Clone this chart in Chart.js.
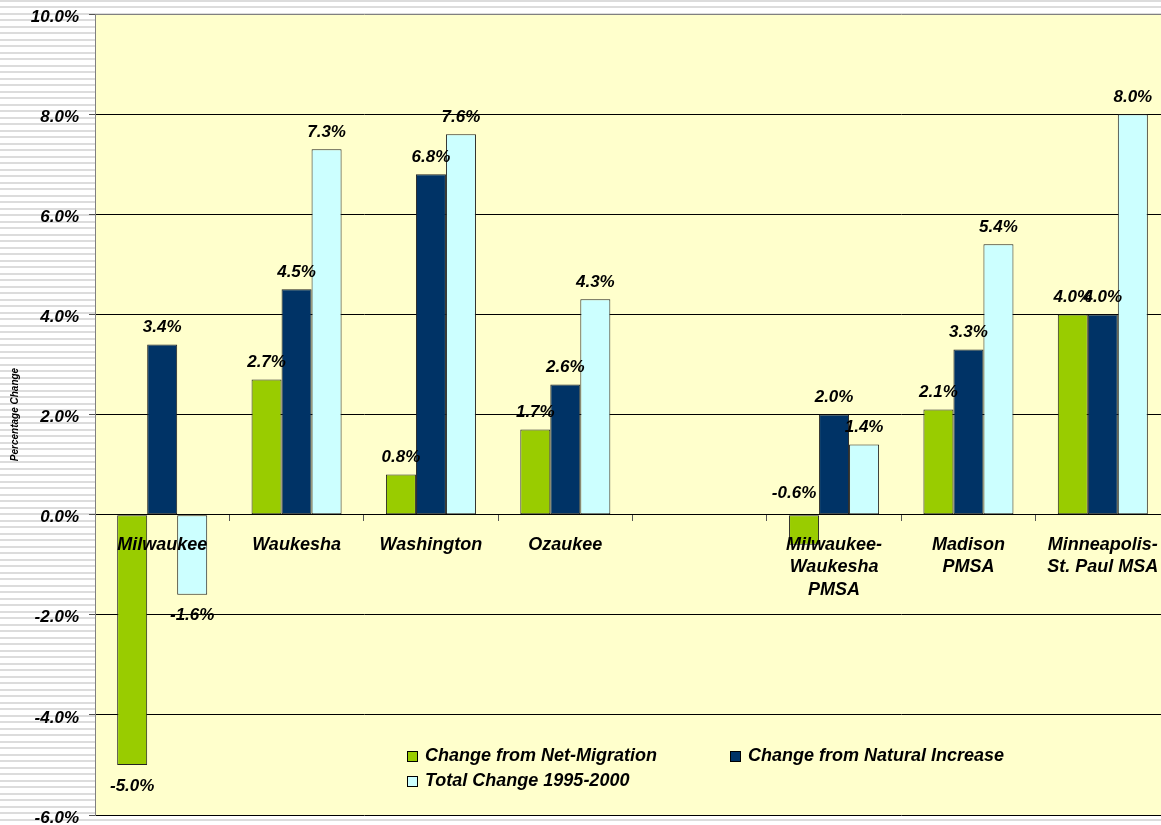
<!DOCTYPE html>
<html>
<head>
<meta charset="utf-8">
<title>Population change 1995-2000</title>
<script src="https://cdn.jsdelivr.net/npm/chart.js@4"></script>
<style>
  html, body {
    margin: 0;
    padding: 0;
    overflow: hidden;
    background: repeating-linear-gradient(to bottom, #dcdcdc 0px, #dcdcdc 2px, #ffffff 2px, #ffffff 6.5px);
  }
  #chart { display: block; }
</style>
</head>
<body>
<canvas id="chart" width="1170" height="825"></canvas>
<script>
const categories = [
  "Milwaukee",
  "Waukesha",
  "Washington",
  "Ozaukee",
  "",
  ["Milwaukee-", "Waukesha", "PMSA"],
  ["Madison", "PMSA"],
  ["Minneapolis-", "St. Paul MSA"],
];
const netMigration = [-5.0, 2.7, 0.8, 1.7, null, -0.6, 2.1, 4.0];
const naturalIncrease = [3.4, 4.5, 6.8, 2.6, null, 2.0, 3.3, 4.0];
const totalChange = [-1.6, 7.3, 7.6, 4.3, null, 1.4, 5.4, 8.0];
const seriesNames = [
  "Change from Net-Migration",
  "Change from Natural Increase",
  "Total Change 1995-2000",
];
const yMin = -6;
const yMax = 10;
const yStep = 2;

const FONT = '"Liberation Sans", Arial, sans-serif';
const valueFont = "italic bold 17px " + FONT;
const legendFont = "italic bold 18px " + FONT;

// light yellow plot area
const plotBackground = {
  id: "plotBackground",
  beforeDraw(chart) {
    const { ctx, chartArea: a } = chart;
    ctx.save();
    ctx.fillStyle = "#ffffcc";
    ctx.fillRect(a.left, a.top, a.right - a.left, a.bottom - a.top);
    ctx.restore();
  },
};

// value labels at the end of each bar
const valueLabels = {
  id: "valueLabels",
  afterDatasetsDraw(chart) {
    const ctx = chart.ctx;
    const zeroY = chart.scales.y.getPixelForValue(0);
    ctx.save();
    ctx.font = valueFont;
    ctx.fillStyle = "#000";
    ctx.textAlign = "center";
    ctx.textBaseline = "middle";
    chart.data.datasets.forEach((ds, i) => {
      chart.getDatasetMeta(i).data.forEach((bar, j) => {
        const v = ds.data[j];
        if (v == null) return;
        let x = bar.x;
        let y;
        if (v >= 0) {
          y = bar.y - 17;
        } else if (bar.y - zeroY < 40) {
          // short negative bar: label sits above the axis, like the original
          y = zeroY - 21;
          x -= 10;
        } else {
          y = bar.y + 21;
        }
        ctx.fillText(v.toFixed(1) + "%", x, y);
      });
    });
    ctx.restore();
  },
};

// legend drawn inside the plot area
const innerLegend = {
  id: "innerLegend",
  afterDraw(chart) {
    const ctx = chart.ctx;
    const cols = [407, 730];
    const rows = [756, 781];
    ctx.save();
    ctx.font = legendFont;
    ctx.textAlign = "left";
    ctx.textBaseline = "middle";
    chart.data.datasets.forEach((ds, i) => {
      const x = cols[i % 2];
      const y = rows[Math.floor(i / 2)];
      ctx.fillStyle = ds.backgroundColor;
      ctx.fillRect(x, y - 5, 10, 10);
      ctx.strokeStyle = "#000";
      ctx.lineWidth = 1;
      ctx.strokeRect(x + 0.5, y - 4.5, 10, 10);
      ctx.fillStyle = "#000";
      ctx.fillText(ds.label, x + 18, y);
    });
    ctx.restore();
  },
};

const barStyle = {
  borderColor: "#222",
  borderWidth: 1,
  borderSkipped: false,
  categoryPercentage: 0.67,
  barPercentage: 1.0,
};

new Chart(document.getElementById("chart"), {
  type: "bar",
  data: {
    labels: categories,
    datasets: [
      { label: seriesNames[0], data: netMigration, backgroundColor: "#99cc00", ...barStyle },
      { label: seriesNames[1], data: naturalIncrease, backgroundColor: "#003366", ...barStyle },
      { label: seriesNames[2], data: totalChange, backgroundColor: "#ccffff", ...barStyle },
    ],
  },
  options: {
    responsive: false,
    animation: false,
    layout: { padding: { top: 14, bottom: 10, left: 0, right: 0 } },
    plugins: {
      legend: { display: false },
      tooltip: { enabled: false },
    },
    scales: {
      x: {
        position: { y: 0 },
        offset: true,
        afterFit(scale) {
          scale.paddingLeft = 0;
          scale.paddingRight = 0;
          scale.paddingTop = 0;
          scale.paddingBottom = 0;
        },
        grid: {
          offset: true,
          drawOnChartArea: false,
          drawTicks: true,
          tickLength: 6,
          tickColor: "#555",
        },
        border: { display: true, color: "#000", width: 1 },
        ticks: {
          z: 1,
          autoSkip: false,
          maxRotation: 0,
          minRotation: 0,
          padding: 13,
          color: "#000",
          font: { family: FONT, size: 18, style: "italic", weight: "bold", lineHeight: 1.25 },
        },
      },
      y: {
        min: yMin,
        max: yMax,
        afterFit(scale) {
          scale.width = 95;
          scale.paddingTop = 0;
          scale.paddingBottom = 0;
        },
        grid: {
          color: (c) => (c.tick && c.tick.value === yMax ? "#808080" : "#000"),
          lineWidth: 1,
          drawTicks: true,
          tickLength: 6,
          tickColor: "#555",
        },
        border: { display: true, color: "#808080", width: 1 },
        ticks: {
          stepSize: yStep,
          padding: 10,
          labelOffset: 3,
          color: "#000",
          font: { family: FONT, size: 17, style: "italic", weight: "bold" },
          callback: (v) => v.toFixed(1) + "%",
        },
        title: {
          display: true,
          text: "Percentage Change",
          color: "#000",
          padding: { top: 9, bottom: 0 },
          font: { family: FONT, size: 10, style: "italic", weight: "bold" },
        },
      },
    },
  },
  plugins: [plotBackground, valueLabels, innerLegend],
});
</script>
</body>
</html>
